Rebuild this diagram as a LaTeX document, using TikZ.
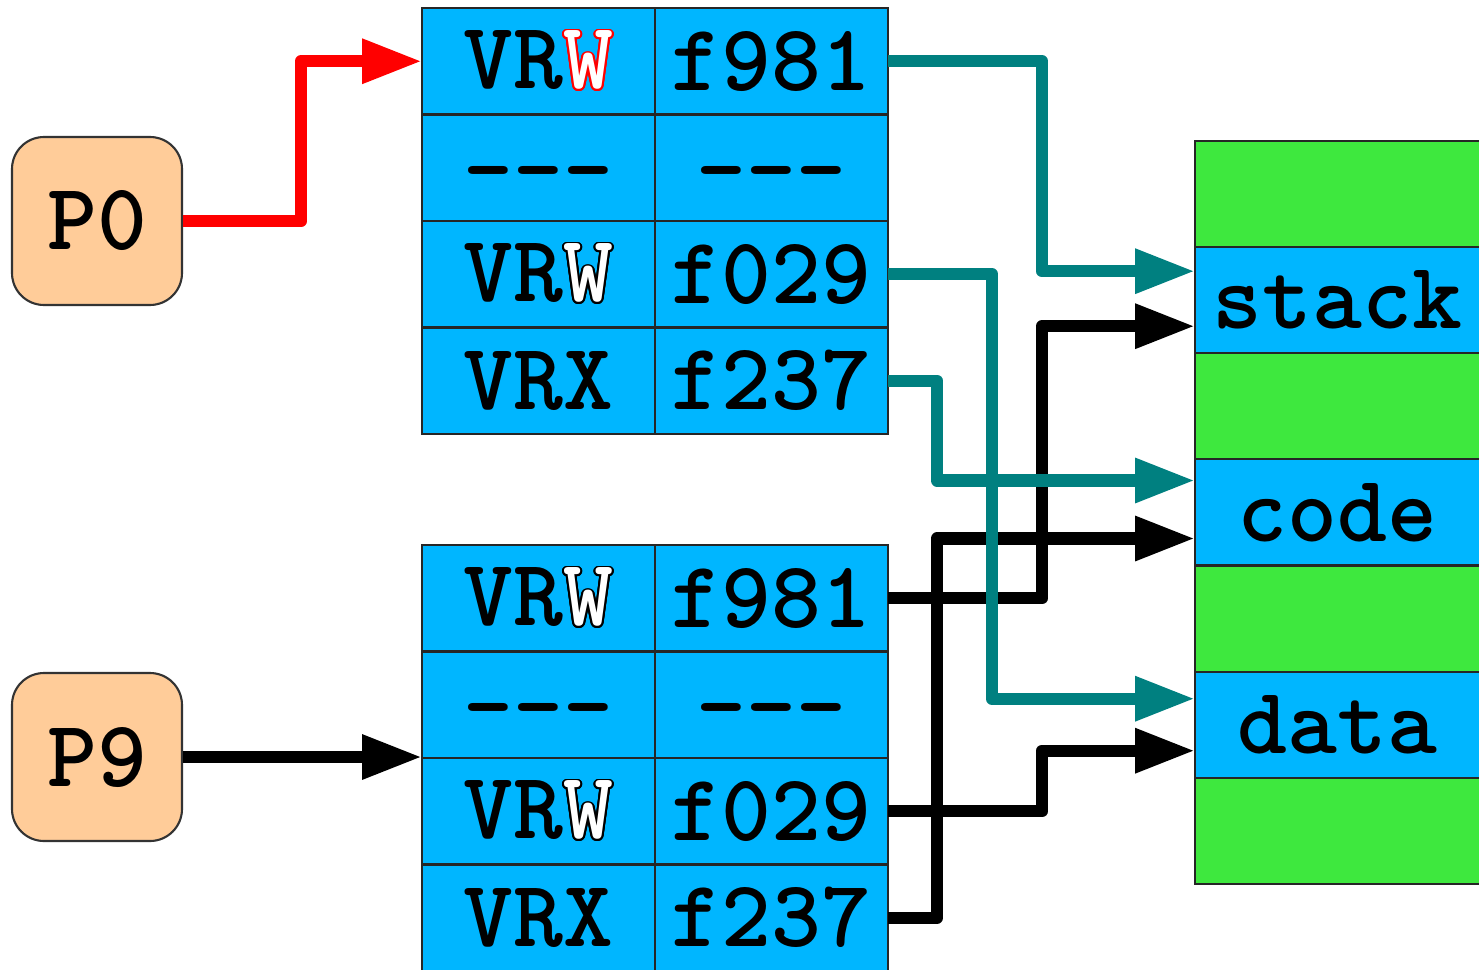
\documentclass[tikz,border=0pt]{standalone}
\usepackage{fontspec}
\newfontfamily\cellfam{lmmonolt10-bold}[Extension=.otf]
\usepackage{contour}
\contourlength{0.5pt}
\usetikzlibrary{arrows.meta,positioning}
\definecolor{cellblue}{HTML}{00B6FF}
\definecolor{memgreen}{HTML}{3EE83E}
\definecolor{procpeach}{HTML}{FFCC99}
\definecolor{mapteal}{HTML}{008080}
\newcommand{\cellfont}{\fontsize{27}{32}\cellfam}
\newcommand{\wbit}[1]{\contour{#1}{\color{white}W}}
\newcommand{\nomap}{\raisebox{-3.2mm}[0pt][0pt]{-{}-{}-}}
\tikzset{
  cell/.style={draw=black!85,line width=.6pt,fill=cellblue,minimum width=2.33cm,minimum height=1.065cm,inner sep=0pt,outer sep=0pt,font=\cellfont},
  memrow/.style={draw=black!85,line width=.6pt,fill=#1,minimum width=2.85cm,minimum height=1.0614cm,inner sep=0pt,outer sep=0pt,font=\cellfont},
  proc/.style={draw=black!80,line width=.6pt,fill=procpeach,rounded corners=0.32cm,minimum width=1.7cm,minimum height=1.68cm,inner sep=0pt,font=\cellfont},
  link/.style={line width=3.5pt,line join=round,-{Triangle[length=6mm,width=4.2mm]}}
}
\begin{document}
\begin{tikzpicture}[x=1cm,y=1cm]
\useasboundingbox (0,0) rectangle (14.79,9.69);
% top page table
\node[cell] (ta1) at (5.385,9.0775) {VR\wbit{red}};
\node[cell] (tb1) at (7.715,9.0775) {f981};
\node[cell] (ta2) at (5.385,8.0125) {\nomap};
\node[cell] (tb2) at (7.715,8.0125) {\nomap};
\node[cell] (ta3) at (5.385,6.9475) {VR\wbit{black}};
\node[cell] (tb3) at (7.715,6.9475) {f029};
\node[cell] (ta4) at (5.385,5.8825) {VRX};
\node[cell] (tb4) at (7.715,5.8825) {f237};
% bottom page table
\node[cell] (ba1) at (5.385,3.7075) {VR\wbit{black}};
\node[cell] (bb1) at (7.715,3.7075) {f981};
\node[cell] (ba2) at (5.385,2.6425) {\nomap};
\node[cell] (bb2) at (7.715,2.6425) {\nomap};
\node[cell] (ba3) at (5.385,1.5775) {VR\wbit{black}};
\node[cell] (bb3) at (7.715,1.5775) {f029};
\node[cell] (ba4) at (5.385,0.5125) {VRX};
\node[cell] (bb4) at (7.715,0.5125) {f237};
% processes
\node[proc] (p0) at (0.97,7.48) {P0};
\node[proc] (p9) at (0.97,2.12) {P9};
% physical memory
\node[memrow=memgreen] (m1) at (13.375,7.749) {};
\node[memrow=cellblue] (mstack) at (13.375,6.688) {stack};
\node[memrow=memgreen] (m3) at (13.375,5.627) {};
\node[memrow=cellblue] (mcode) at (13.375,4.565) {code};
\node[memrow=memgreen] (m5) at (13.375,3.504) {};
\node[memrow=cellblue] (mdata) at (13.375,2.443) {data};
\node[memrow=memgreen] (m7) at (13.375,1.381) {};
% P9 mappings
\draw[link,black] (bb1.east) -- ++(1.54,0) |- ([yshift=-2.6mm]mstack.west);
\draw[link,black] (bb3.east) -- ++(1.54,0) |- ([yshift=-2.6mm]mdata.west);
\draw[link,black] (bb4.east) -- ++(0.49,0) |- ([yshift=-2.6mm]mcode.west);
\draw[link,black] (p9.east) -- (p9.east -| ba2.west);
% P0 mappings
\draw[link,mapteal] (tb1.east) -- ++(1.54,0) |- ([yshift=2.9mm]mstack.west);
\draw[link,mapteal] (tb3.east) -- ++(1.04,0) |- ([yshift=2.6mm]mdata.west);
\draw[link,mapteal] (tb4.east) -- ++(0.49,0) |- ([yshift=3.2mm]mcode.west);
\draw[link,red] (p0.east) -- ++(1.18,0) |- (ta1.west);
\end{tikzpicture}
\end{document}
